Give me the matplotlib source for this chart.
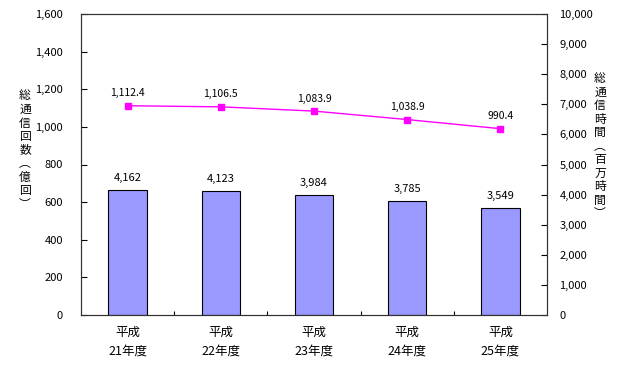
import matplotlib
matplotlib.use("Agg")
import matplotlib.pyplot as plt
from matplotlib.ticker import FuncFormatter

plt.rcParams['font.family'] = ['Noto Sans CJK JP', 'DejaVu Sans']

# data
years = ["平成\n21年度", "平成\n22年度", "平成\n23年度", "平成\n24年度", "平成\n25年度"]
call_count = [1112.4, 1106.5, 1083.9, 1038.9, 990.4]      # 億回 (left axis, line)
call_time = [4162, 4123, 3984, 3785, 3549]                # 百万時間 (right axis, bars)

fig = plt.figure(figsize=(6.4, 3.67), dpi=100)
ax = fig.add_axes([81 / 640, 1 - 315 / 367, 466 / 640, 301 / 367])
ax2 = ax.twinx()

x = list(range(len(years)))

ax2.bar(x, call_time, width=0.41, color='#9999ff', edgecolor='black', linewidth=0.8, zorder=2)
for xi, v in zip(x, call_time):
    ax2.text(xi, v + 230, f"{v:,}", ha='center', va='bottom', fontsize=8)

ax.plot(x, call_count, color='#ff00ff', linewidth=1, marker='s', markersize=5,
        markerfacecolor='#ff00ff', markeredgecolor='#ff00ff', zorder=5)
for xi, v in zip(x, call_count):
    ax.text(xi, v + 40, f"{v:,.1f}", ha='center', va='bottom', fontsize=7.5)

ax.set_zorder(ax2.get_zorder() + 1)
ax.patch.set_visible(False)

ax.set_xlim(-0.5, len(years) - 0.5)
ax.set_ylim(0, 1600)
ax.set_yticks(range(0, 1601, 200))
ax.yaxis.set_major_formatter(FuncFormatter(lambda v, p: f"{int(v):,}"))
ax2.set_ylim(0, 10000)
ax2.set_yticks(range(0, 10001, 1000))
ax2.yaxis.set_major_formatter(FuncFormatter(lambda v, p: f"{int(v):,}"))

# boundary ticks between categories, labels centred on the bars
ax.set_xticks([i + 0.5 for i in range(len(years) - 1)])
ax.set_xticklabels([])
ax.tick_params(axis='x', direction='in', length=3, width=0.8)
ax.set_xticks(x, minor=True)
ax.set_xticklabels(years, minor=True, fontsize=9, linespacing=1.5)
ax.tick_params(axis='x', which='minor', length=0, pad=8)

ax.tick_params(axis='y', direction='in', length=4, width=0.8, labelsize=8, pad=13)
ax2.tick_params(axis='y', direction='in', length=4, width=0.8, labelsize=8, pad=9)

for a in (ax, ax2):
    for s in a.spines.values():
        s.set_linewidth(0.8)
        s.set_color('#333333')

left_label = "総通信回数︵億回︶"
right_label = "総通信時間︵百万時間︶"
fig.text(25 / 640, 1 - 150 / 367, "\n".join(left_label), ha='center', va='center',
         fontsize=8.5, linespacing=1.05)
fig.text(600 / 640, 1 - 146 / 367, "\n".join(right_label), ha='center', va='center',
         fontsize=8.5, linespacing=1.05)

fig.savefig("out.png", dpi=100)
